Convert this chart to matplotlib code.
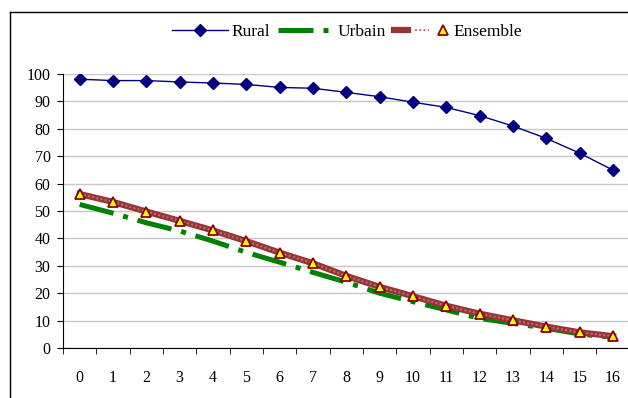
import matplotlib
matplotlib.use('Agg')
import matplotlib.pyplot as plt
from matplotlib.lines import Line2D
from matplotlib.legend_handler import HandlerTuple

plt.rcParams['font.family'] = ['Liberation Serif', 'DejaVu Serif']
plt.rcParams['font.size'] = 11.5

# Data
steps = list(range(17))
rural = [98.1, 97.6, 97.6, 97.1, 96.7, 96.2, 95.1, 94.8, 93.3, 91.7,
         89.7, 87.8, 84.8, 81.0, 76.5, 71.1, 64.9]
urbain = [52.4, 49.2, 45.7, 42.7, 39.0, 34.9, 31.3, 27.6, 24.0, 20.0,
          16.9, 13.9, 10.8, 9.0, 7.2, 5.1, 3.9]
ensemble = [56.2, 53.3, 49.8, 46.4, 42.9, 39.0, 34.8, 30.9, 26.3, 22.3,
            18.9, 15.4, 12.5, 10.1, 7.8, 5.7, 4.3]
y_ticks = list(range(0, 101, 10))

fig = plt.figure(figsize=(6.28, 3.98), dpi=100)
ax = fig.add_axes([63 / 628, 50 / 398, 566.7 / 628, 274 / 398])

# outer chart frame (only the left and top edges are visible)
fig.add_artist(Line2D([10 / 628, 10 / 628], [0, 1 - 12 / 398], transform=fig.transFigure,
                      color='black', lw=1.0))
fig.add_artist(Line2D([10 / 628, 1], [1 - 12 / 398, 1 - 12 / 398], transform=fig.transFigure,
                      color='black', lw=1.0))

ax.set_xlim(-0.5, 16.5)
ax.set_ylim(0, 100)
ax.set_yticks(y_ticks)
ax.grid(axis='y', color='#c8c8c8', lw=1.0)
ax.set_axisbelow(True)

l_rural, = ax.plot(steps, rural, color='#000080', lw=1.0, marker='D', markersize=6,
                   markerfacecolor='#000080', markeredgecolor='#000080', zorder=4)
l_urb, = ax.plot(steps, urbain, color='#008000', lw=3.6,
                 dashes=(7.0, 2.0, 1.0, 2.0), solid_capstyle='butt', zorder=2)
l_ens, = ax.plot(steps, ensemble, color='#963535', lw=4.5, zorder=3)
l_ens2, = ax.plot(steps, ensemble, color='#c07070', lw=1.4, dashes=(1, 1.2), zorder=3)
l_ens_m, = ax.plot(steps, ensemble, ls='none', marker='^', markersize=7.5,
                   markerfacecolor='#ffff00', markeredgecolor='#8b0000', markeredgewidth=1.3,
                   zorder=5)

for s in ['top', 'right']:
    ax.spines[s].set_visible(False)
ax.spines['left'].set_color('black')
ax.spines['bottom'].set_color('black')

ax.set_xticks(steps)
ax.set_xticks([i - 0.5 for i in range(18)], minor=True)
ax.tick_params(axis='x', which='major', length=0, pad=16)
ax.tick_params(axis='x', which='minor', length=4, direction='out', color='black')
ax.tick_params(axis='y', length=4, direction='out', pad=5, color='black')

ax.legend([l_rural, l_urb, (l_ens, l_ens2, l_ens_m)], ['Rural', 'Urbain', 'Ensemble'],
          loc='center', bbox_to_anchor=(347 / 628, 1 - 32 / 398),
          bbox_transform=fig.transFigure, ncol=3, frameon=False, fontsize=12.5,
          handlelength=3.2, handletextpad=0.2, columnspacing=0.5,
          handler_map={tuple: HandlerTuple(ndivide=None)})

fig.savefig('out.png', dpi=100)
